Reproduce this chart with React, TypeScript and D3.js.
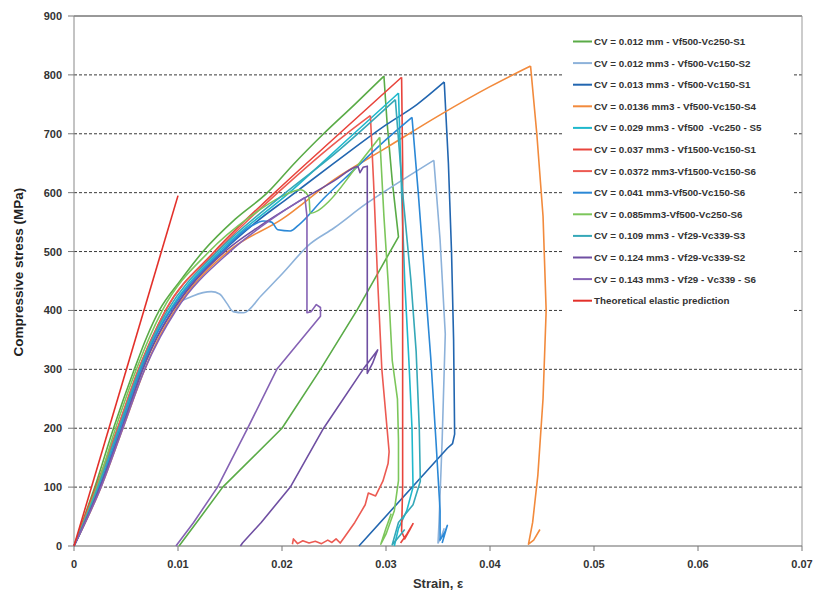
import React from "react";
import * as d3 from "d3";

type Pt = [number, number];

const xTicks = [0, 0.01, 0.02, 0.03, 0.04, 0.05, 0.06, 0.07];
const xTickLabels = ["0", "0.01", "0.02", "0.03", "0.04", "0.05", "0.06", "0.07"];
const yTicks = [0, 100, 200, 300, 400, 500, 600, 700, 800, 900];

const legendLabels = [
  "CV = 0.012 mm - Vf500-Vc250-S1",
  "CV = 0.012 mm3 - Vf500-Vc150-S2",
  "CV = 0.013 mm3 - Vf500-Vc150-S1",
  "CV = 0.0136 mm3 - Vf500-Vc150-S4",
  "CV = 0.029 mm3 - Vf500  -Vc250 - S5",
  "CV = 0.037 mm3 - Vf1500-Vc150-S1",
  "CV = 0.0372 mm3-Vf1500-Vc150-S6",
  "CV = 0.041 mm3-Vf500-Vc150-S6",
  "CV = 0.085mm3-Vf500-Vc250-S6",
  "CV = 0.109 mm3 - Vf29-Vc339-S3",
  "CV = 0.124 mm3 - Vf29-Vc339-S2",
  "CV = 0.143 mm3 - Vf29 - Vc339 - S6",
  "Theoretical elastic prediction",
];

const seriesColors = [
  "#5aab47", "#8db2da", "#2266b0", "#f28a3c", "#1fb8cc", "#e8443c", "#ec5a52",
  "#2b88d6", "#7cc65b", "#35a8b8", "#6f4fa2", "#8562b4", "#e3302a",
];

const cv0012mmS1: Pt[] = [
  [0, 0], [0.001, 50], [0.002, 100], [0.0038, 200], [0.0058, 300], [0.007, 355], [0.0082, 400], [0.0102, 450],
  [0.0124, 500], [0.0155, 555], [0.0186, 600], [0.0212, 650], [0.024, 700], [0.027, 750],
  [0.0298, 798], [0.0301, 720], [0.0306, 620], [0.0312, 525], [0.0272, 400], [0.0237, 300],
  [0.02, 200], [0.0143, 100], [0.012, 45], [0.0101, 0],
];

const cv0012S2: Pt[] = [
  [0, 0], [0.0022, 100], [0.0042, 200], [0.0064, 300], [0.0076, 350], [0.009, 395], [0.0115, 425], [0.0132, 432],
  [0.014, 428], [0.0147, 412], [0.0153, 398], [0.0163, 396], [0.018, 425], [0.02, 462],
  [0.0227, 513], [0.025, 540], [0.028, 580], [0.031, 615], [0.0346, 655], [0.0352, 520],
  [0.0357, 360], [0.0354, 180], [0.0351, 40], [0.035, 5], [0.0353, 15], [0.0356, 30],
];

const cv0013S1: Pt[] = [
  [0, 0], [0.0025, 100], [0.0046, 200], [0.0066, 300], [0.008, 355], [0.0095, 400], [0.0143, 500], [0.0175, 550],
  [0.0205, 590], [0.025, 650], [0.03, 715], [0.033, 750], [0.0356, 788], [0.036, 650],
  [0.0363, 500], [0.0365, 350], [0.0366, 190], [0.0364, 174], [0.0359, 166], [0.0274, 0],
];

const cv00136S4: Pt[] = [
  [0, 0], [0.0026, 100], [0.0047, 200], [0.0068, 300], [0.0082, 355], [0.0097, 400], [0.0148, 500], [0.02, 555],
  [0.025, 622], [0.03, 676], [0.035, 730], [0.04, 780], [0.0439, 815], [0.0445, 700],
  [0.0451, 560], [0.0454, 400], [0.0451, 250], [0.0446, 120], [0.0441, 40], [0.0437, 3],
  [0.0442, 10], [0.0448, 28],
];

const cv0029S5: Pt[] = [
  [0, 0], [0.0025, 100], [0.0045, 200], [0.0065, 300], [0.0078, 355], [0.0092, 400], [0.014, 500], [0.0207, 600],
  [0.0269, 700], [0.0312, 769], [0.0315, 600], [0.0318, 450], [0.0322, 315], [0.0325, 200],
  [0.0326, 100], [0.032, 60], [0.0312, 30], [0.0308, 0],
];

const cv0037S1: Pt[] = [
  [0, 0], [0.002, 95], [0.004, 190], [0.006, 290], [0.0074, 350], [0.0088, 400], [0.0135, 500], [0.0193, 600],
  [0.0255, 700], [0.0315, 796], [0.0316, 650], [0.0316, 450], [0.0316, 250], [0.0316, 100],
  [0.0315, 25], [0.0318, 12], [0.0323, 28], [0.0326, 38], [0.032, 20], [0.0314, 5],
];

const cv00372S6: Pt[] = [
  [0, 0], [0.0022, 100], [0.0042, 200], [0.0062, 300], [0.0075, 352], [0.0088, 400], [0.0137, 500], [0.0196, 600],
  [0.0262, 700], [0.0285, 731], [0.0288, 620], [0.0292, 450], [0.0296, 300], [0.0301, 200],
  [0.0303, 160], [0.0302, 140], [0.0297, 110], [0.029, 85], [0.0283, 90], [0.028, 70],
  [0.027, 40], [0.026, 15], [0.0256, 5], [0.0252, 12], [0.0248, 6], [0.0244, 10], [0.0238, 4],
  [0.0232, 8], [0.0226, 5], [0.022, 9], [0.0215, 4], [0.0211, 12], [0.021, 3],
];

const cv0041S6: Pt[] = [
  [0, 0], [0.0024, 100], [0.0044, 200], [0.0064, 300], [0.0078, 355], [0.0093, 400], [0.0142, 500], [0.0172, 545],
  [0.0182, 552], [0.019, 550], [0.0196, 537], [0.0208, 535], [0.0216, 545], [0.024, 590],
  [0.027, 640], [0.03, 690], [0.0325, 728], [0.0331, 600], [0.0337, 460], [0.0343, 320],
  [0.0348, 180], [0.0352, 60], [0.0352, 10], [0.0357, 25], [0.0359, 35], [0.0354, 5],
];

const cv0085S6: Pt[] = [
  [0, 0], [0.0022, 100], [0.004, 200], [0.006, 300], [0.0072, 352], [0.0085, 400], [0.013, 500], [0.017, 560],
  [0.0198, 592], [0.0218, 605], [0.0226, 592], [0.0227, 565], [0.0235, 570], [0.0245, 585],
  [0.027, 640], [0.0294, 694], [0.0298, 560], [0.0302, 450], [0.0306, 315], [0.0311, 250],
  [0.0312, 180], [0.0312, 111], [0.0308, 60], [0.03, 20], [0.0295, 3], [0.03, 30], [0.0305, 55],
];

const cv0109S3: Pt[] = [
  [0, 0], [0.0023, 100], [0.0043, 200], [0.0063, 300], [0.0076, 354], [0.009, 400], [0.0138, 500], [0.02, 595],
  [0.025, 665], [0.0309, 758], [0.0316, 600], [0.0324, 450], [0.0329, 330], [0.0332, 200],
  [0.0333, 110], [0.0326, 70], [0.0312, 40], [0.0306, 2], [0.0312, 15], [0.0318, 28],
];

const cv0124S2: Pt[] = [
  [0, 0], [0.0025, 100], [0.0046, 200], [0.0066, 300], [0.008, 355], [0.0095, 400], [0.0145, 500], [0.018, 545],
  [0.0218, 587], [0.025, 620], [0.027, 643], [0.0273, 645], [0.0275, 634], [0.0278, 643],
  [0.0282, 645], [0.0282, 450], [0.0282, 293], [0.0287, 310], [0.0292, 333], [0.0278, 300],
  [0.024, 200], [0.0208, 100], [0.018, 40], [0.0162, 5], [0.016, 0],
];

const cv0143S6: Pt[] = [
  [0, 0], [0.0026, 100], [0.0047, 200], [0.0068, 300], [0.0083, 355], [0.0098, 400], [0.015, 500], [0.019, 555],
  [0.0222, 592], [0.0224, 560], [0.0224, 450], [0.0224, 396], [0.0228, 398], [0.0233, 410],
  [0.0237, 405], [0.0237, 390], [0.0195, 300], [0.0167, 200], [0.0138, 100], [0.0115, 40],
  [0.0098, 0],
];

const theoreticalElastic: Pt[] = [[0, 0], [0.01, 595]];

const allSeries = [
  cv0012mmS1, cv0012S2, cv0013S1, cv00136S4, cv0029S5, cv0037S1, cv00372S6,
  cv0041S6, cv0085S6, cv0109S3, cv0124S2, cv0143S6, theoreticalElastic,
];

const W = 817;
const H = 592;
const FONT = "'Liberation Sans', Arial, sans-serif";

export default function App() {
  const x = d3.scaleLinear().domain([0, 0.07]).range([74, 802]);
  const y = d3.scaleLinear().domain([0, 900]).range([546, 16]);
  const smooth = d3
    .line<Pt>()
    .x((d) => x(d[0]))
    .y((d) => y(d[1]))
    .curve(d3.curveMonotoneX);
  const straight = d3
    .line<Pt>()
    .x((d) => x(d[0]))
    .y((d) => y(d[1]));

  const pathFor = (s: Pt[]) => {
    const peak = d3.maxIndex(s, (d) => d[1]);
    let end = peak;
    for (let i = 1; i <= peak; i++) {
      if (s[i][0] <= s[i - 1][0]) {
        end = i - 1;
        break;
      }
    }
    const loading = s.slice(0, end + 1);
    const rest = s.slice(end);
    return (smooth(loading) || "") + (rest.length > 1 ? straight(rest) || "" : "");
  };

  const legX = 573;
  const legY0 = 41.5;
  const legStep = 21.6;

  return (
    <div style={{ position: "absolute", left: 0, top: 0 }}>
      <svg width={W} height={H} style={{ display: "block", background: "#fff" }}>
        {yTicks
          .filter((t) => t > 0 && t < 900)
          .map((t) => (
            <line
              key={"g" + t}
              x1={x(0)}
              x2={x(0.07)}
              y1={y(t)}
              y2={y(t)}
              stroke="#3a3a3a"
              strokeWidth={1}
              strokeDasharray="3 2"
            />
          ))}
        <line x1={x(0)} x2={x(0.07)} y1={y(900)} y2={y(900)} stroke="#333" strokeWidth={1} />
        <line x1={x(0.07)} x2={x(0.07)} y1={y(900)} y2={y(0)} stroke="#999" strokeWidth={1} />

        <rect x={563} y={28} width={231} height={285} fill="#fff" />

        <line x1={x(0)} x2={x(0)} y1={y(900)} y2={y(0)} stroke="#888" strokeWidth={1} />
        <line x1={x(0)} x2={x(0.07)} y1={y(0)} y2={y(0)} stroke="#666" strokeWidth={1.2} />
        {yTicks.map((t) => (
          <g key={"yt" + t}>
            <line x1={x(0) - 6} x2={x(0)} y1={y(t)} y2={y(t)} stroke="#777" />
            <text
              x={62}
              y={y(t) + 4}
              textAnchor="end"
              fontFamily={FONT}
              fontWeight="bold"
              fontSize={11}
              fill="#333"
            >
              {t}
            </text>
          </g>
        ))}
        {xTicks.map((t, i) => (
          <g key={"xt" + t}>
            <line x1={x(t)} x2={x(t)} y1={y(0)} y2={y(0) + 5} stroke="#777" />
            <text
              x={x(t)}
              y={568}
              textAnchor="middle"
              fontFamily={FONT}
              fontWeight="bold"
              fontSize={11}
              fill="#333"
            >
              {xTickLabels[i]}
            </text>
          </g>
        ))}
        <text
          x={438}
          y={588}
          textAnchor="middle"
          fontFamily={FONT}
          fontWeight="bold"
          fontSize={13}
          fill="#333"
        >
          Strain, ε
        </text>
        <text
          transform={`translate(23, ${y(465)}) rotate(-90)`}
          textAnchor="middle"
          fontFamily={FONT}
          fontWeight="bold"
          fontSize={13.5}
          fill="#222"
        >
          Compressive stress (MPa)
        </text>

        {allSeries.map((s, i) => (
          <path
            key={"s" + i}
            d={pathFor(s)}
            fill="none"
            stroke={seriesColors[i]}
            strokeWidth={1.6}
            strokeLinejoin="round"
          />
        ))}

        {legendLabels.map((lab, i) => (
          <g key={"l" + i}>
            <line
              x1={legX}
              x2={legX + 19}
              y1={legY0 + i * legStep}
              y2={legY0 + i * legStep}
              stroke={seriesColors[i]}
              strokeWidth={2}
            />
            <text
              x={legX + 21}
              y={legY0 + i * legStep + 3.5}
              fontFamily={FONT}
              fontWeight="bold"
              fontSize={9.8}
              fill="#333"
              style={{ whiteSpace: "pre" }}
            >
              {lab}
            </text>
          </g>
        ))}
      </svg>
    </div>
  );
}
